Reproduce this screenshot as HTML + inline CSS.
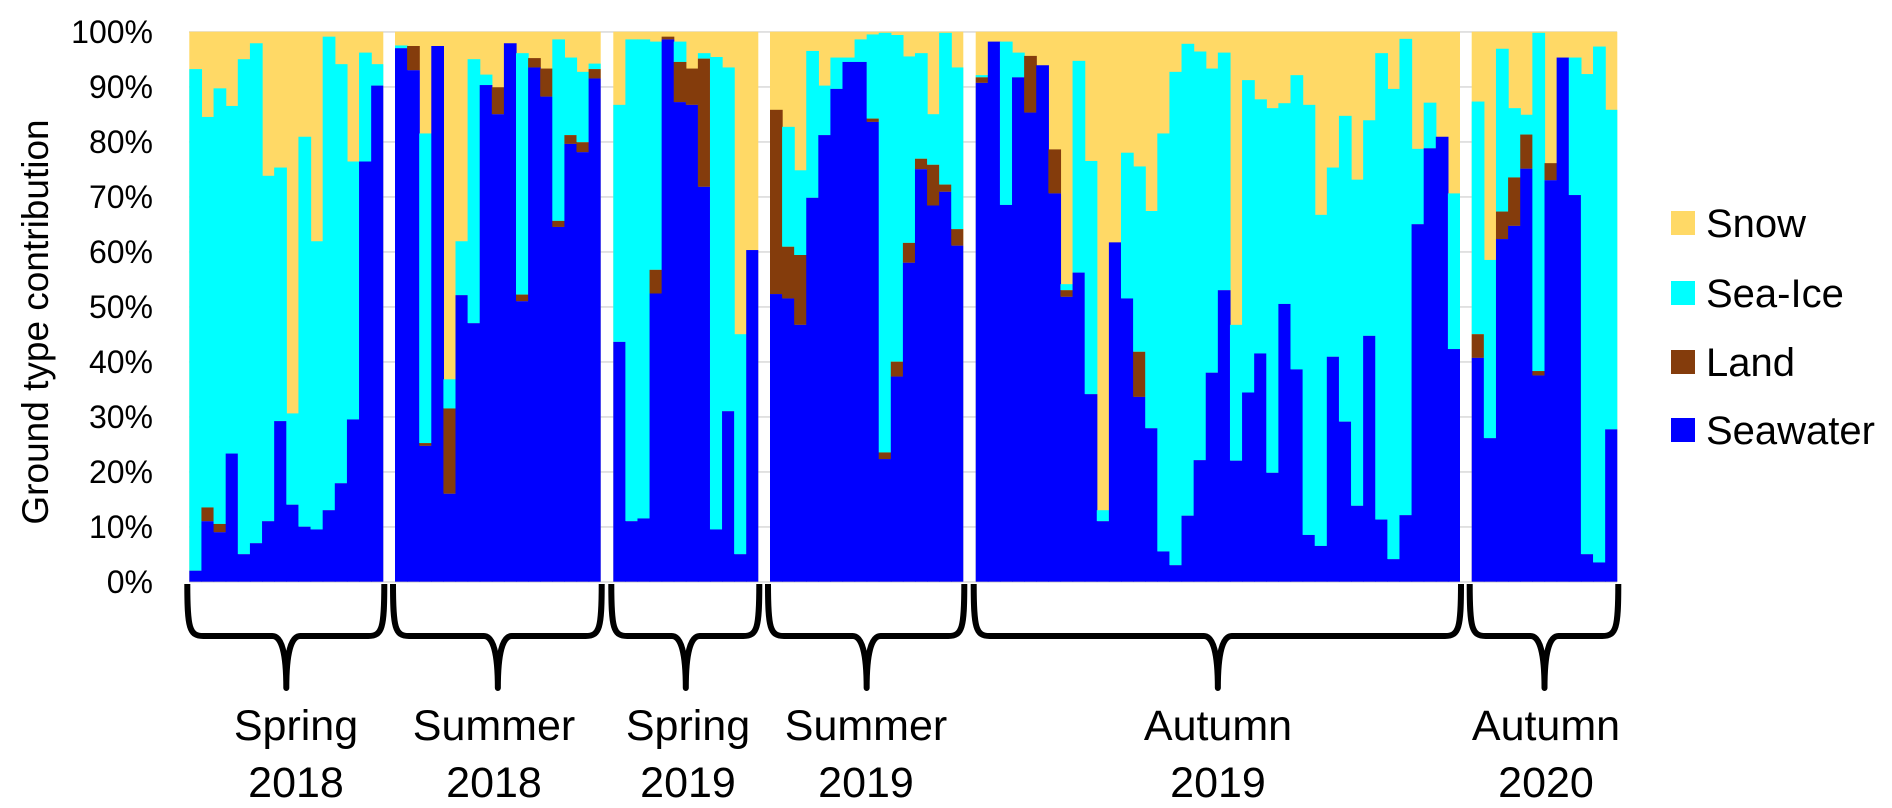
<!DOCTYPE html>
<html><head><meta charset="utf-8"><style>
html,body{margin:0;padding:0;background:#fff;}
svg{display:block;}
text{font-family:"Liberation Sans",sans-serif;fill:#000;}
</style></head><body>
<svg id="c" width="1892" height="808" viewBox="0 0 1892 808" xmlns="http://www.w3.org/2000/svg">
<g id="grid"></g>
<g id="bars"></g>
<g id="braces" fill="none" stroke="#000" stroke-width="6" stroke-linejoin="round"></g>
<g font-size="32" text-anchor="end">
<text x="153" y="593">0%</text>
<text x="153" y="538">10%</text>
<text x="153" y="483">20%</text>
<text x="153" y="428">30%</text>
<text x="153" y="373">40%</text>
<text x="153" y="318">50%</text>
<text x="153" y="263">60%</text>
<text x="153" y="208">70%</text>
<text x="153" y="153">80%</text>
<text x="153" y="98">90%</text>
<text x="153" y="43">100%</text>
</g>
<text font-size="37" text-anchor="middle" transform="translate(48,322) rotate(-90)">Ground type contribution</text>
<g font-size="43" text-anchor="middle">
<text x="296" y="740">Spring</text><text x="296" y="797">2018</text>
<text x="494" y="740">Summer</text><text x="494" y="797">2018</text>
<text x="688" y="740">Spring</text><text x="688" y="797">2019</text>
<text x="866" y="740">Summer</text><text x="866" y="797">2019</text>
<text x="1218" y="740">Autumn</text><text x="1218" y="797">2019</text>
<text x="1546" y="740">Autumn</text><text x="1546" y="797">2020</text>
</g>
<g>
<rect x="1671" y="211" width="24" height="24" fill="#FFD966"/>
<rect x="1671" y="281" width="24" height="24" fill="#00FFFF"/>
<rect x="1671" y="350" width="24" height="24" fill="#843C0C"/>
<rect x="1671" y="418" width="24" height="24" fill="#0000FF"/>
<g font-size="40">
<text x="1706" y="237">Snow</text>
<text x="1706" y="307">Sea-Ice</text>
<text x="1706" y="376">Land</text>
<text x="1706" y="444">Seawater</text>
</g>
</g>
</svg>
<script>
(function(){
var NS="http://www.w3.org/2000/svg";
var Y0=581.7,K=5.5;
function y(v){return Y0-K*v;}
var groups=[
[189.3,383.3,[[2,2,93.2],[11,13.5,84.5],[9,10.5,89.7],[23.3,23.3,86.5],[5,5,95],[7,7,97.9],[11,11,73.8],[29.2,29.2,75.3],[14,14,30.6],[10,10,80.9],[9.5,9.5,61.9],[13,13,99.1],[17.9,17.9,94.1],[29.5,29.5,76.4],[76.4,76.4,96.2],[90.2,90.2,94.1]]],
[395,600.7,[[97,97,97.5],[93,97.4,97.4],[24.7,25.2,81.5],[97.4,97.4,97.4],[16,31.5,36.8],[52.1,52.1,61.9],[47,47,95],[90.3,90.3,92.2],[85,89.9,89.9],[97.9,97.9,97.9],[51,52.2,96.1],[93.5,95.2,95.2],[88.2,93.3,93.3],[64.5,65.6,98.6],[79.6,81.2,95.3],[78.1,79.9,92.7],[91.5,93.2,94.2]]],
[613.3,758.3,[[43.6,43.6,86.7],[11,11,98.6],[11.5,11.5,98.6],[52.4,56.7,98.2],[98.6,99.1,99.1],[87.2,94.5,98.2],[86.7,93.3,93.3],[71.8,95.1,96.1],[9.5,9.5,95.4],[31,31,93.5],[5,5,45],[60.3,60.3,60.3]]],
[770,963.3,[[52.3,85.8,85.8],[51.5,60.9,82.7],[46.7,59.4,74.8],[69.8,69.8,96.5],[81.2,81.2,90.2],[89.6,89.6,95.3],[94.5,94.5,95.3],[94.5,94.5,98.6],[83.6,84.2,99.5],[22.3,23.5,99.8],[37.3,40,99.4],[58,61.6,95.5],[75,76.9,96.1],[68.4,75.8,85],[70.9,72.2,99.8],[61.1,64.1,93.5]]],
[975.7,1460,[[90.7,91.7,92.1],[98.2,98.2,98.2],[68.5,68.5,98.2],[91.7,91.7,96.2],[85.3,95.6,95.6],[93.9,93.9,93.9],[70.6,78.6,78.6],[51.8,53,54.1],[56.2,56.2,94.7],[34.1,34.1,76.5],[11,11,13],[61.7,61.7,61.7],[51.5,51.5,78],[33.6,41.8,75.5],[27.9,27.9,67.4],[5.5,5.5,81.5],[3,3,92.7],[12,12,97.8],[22.1,22.1,96.4],[38,38,93.3],[53,53,96.2],[22,22,46.7],[34.4,34.4,91.2],[41.5,41.5,87.7],[19.8,19.8,86.1],[50.5,50.5,87],[38.6,38.6,92.1],[8.5,8.5,86.7],[6.5,6.5,66.7],[40.9,40.9,75.3],[29.1,29.1,84.7],[13.8,13.8,73.1],[44.7,44.7,83.9],[11.3,11.3,96.1],[4.1,4.1,89.6],[12.1,12.1,98.7],[65,65,78.7],[78.8,78.8,87.1],[80.9,80.9,80.9],[42.3,42.3,70.6]]],
[1471.7,1617.3,[[40.7,45,87.3],[26.1,26.1,58.5],[62.3,67.3,96.9],[64.7,73.5,86.1],[75.1,81.3,84.9],[37.5,38.3,99.8],[73,76.1,76.1],[95.3,95.3,95.3],[70.3,70.3,95.3],[5,5,92.3],[3.5,3.5,97.3],[27.7,27.7,85.8]]]
];
var grid=document.getElementById('grid'),bars=document.getElementById('bars'),br=document.getElementById('braces');
function rect(p,x,y1,w,h,f){if(h<=0)return;var r=document.createElementNS(NS,'rect');r.setAttribute('x',x);r.setAttribute('y',y1);r.setAttribute('width',w);r.setAttribute('height',h);r.setAttribute('fill',f);p.appendChild(r);}
for(var i=0;i<=10;i++){rect(grid,189,y(i*10)-0.5,1428,1.5,'#d9d9d9');}
groups.forEach(function(g){
 var x0=g[0],x1=g[1],d=g[2],w=(x1-x0)/d.length;
 rect(bars,x0,y(100),x1-x0,Y0-y(100),'#FFD966');
 d.forEach(function(b,j){
  var bx=x0+j*w,ww=w+0.6;
  if(j==d.length-1)ww=w;
  rect(bars,bx,y(b[2]),ww,y(b[1])-y(b[2]),'#00FFFF');
  rect(bars,bx,y(b[1]),ww,y(b[0])-y(b[1]),'#843C0C');
  rect(bars,bx,y(b[0]),ww,Y0-y(b[0]),'#0000FF');
 });
 var L=x0-2,R=x1+1,m=(x0+x1)/2;
 var p=document.createElementNS(NS,'path');
 p.setAttribute('d','M'+L+',584 C'+L+',628 '+(L+2)+',636 '+(L+16)+',636 H'+(m-14)+' Q'+m+',636 '+m+',688 Q'+m+',636 '+(m+14)+',636 H'+(R-16)+' C'+(R-2)+',636 '+R+',628 '+R+',584');
 br.appendChild(p);
});
})();
</script>
</body></html>
